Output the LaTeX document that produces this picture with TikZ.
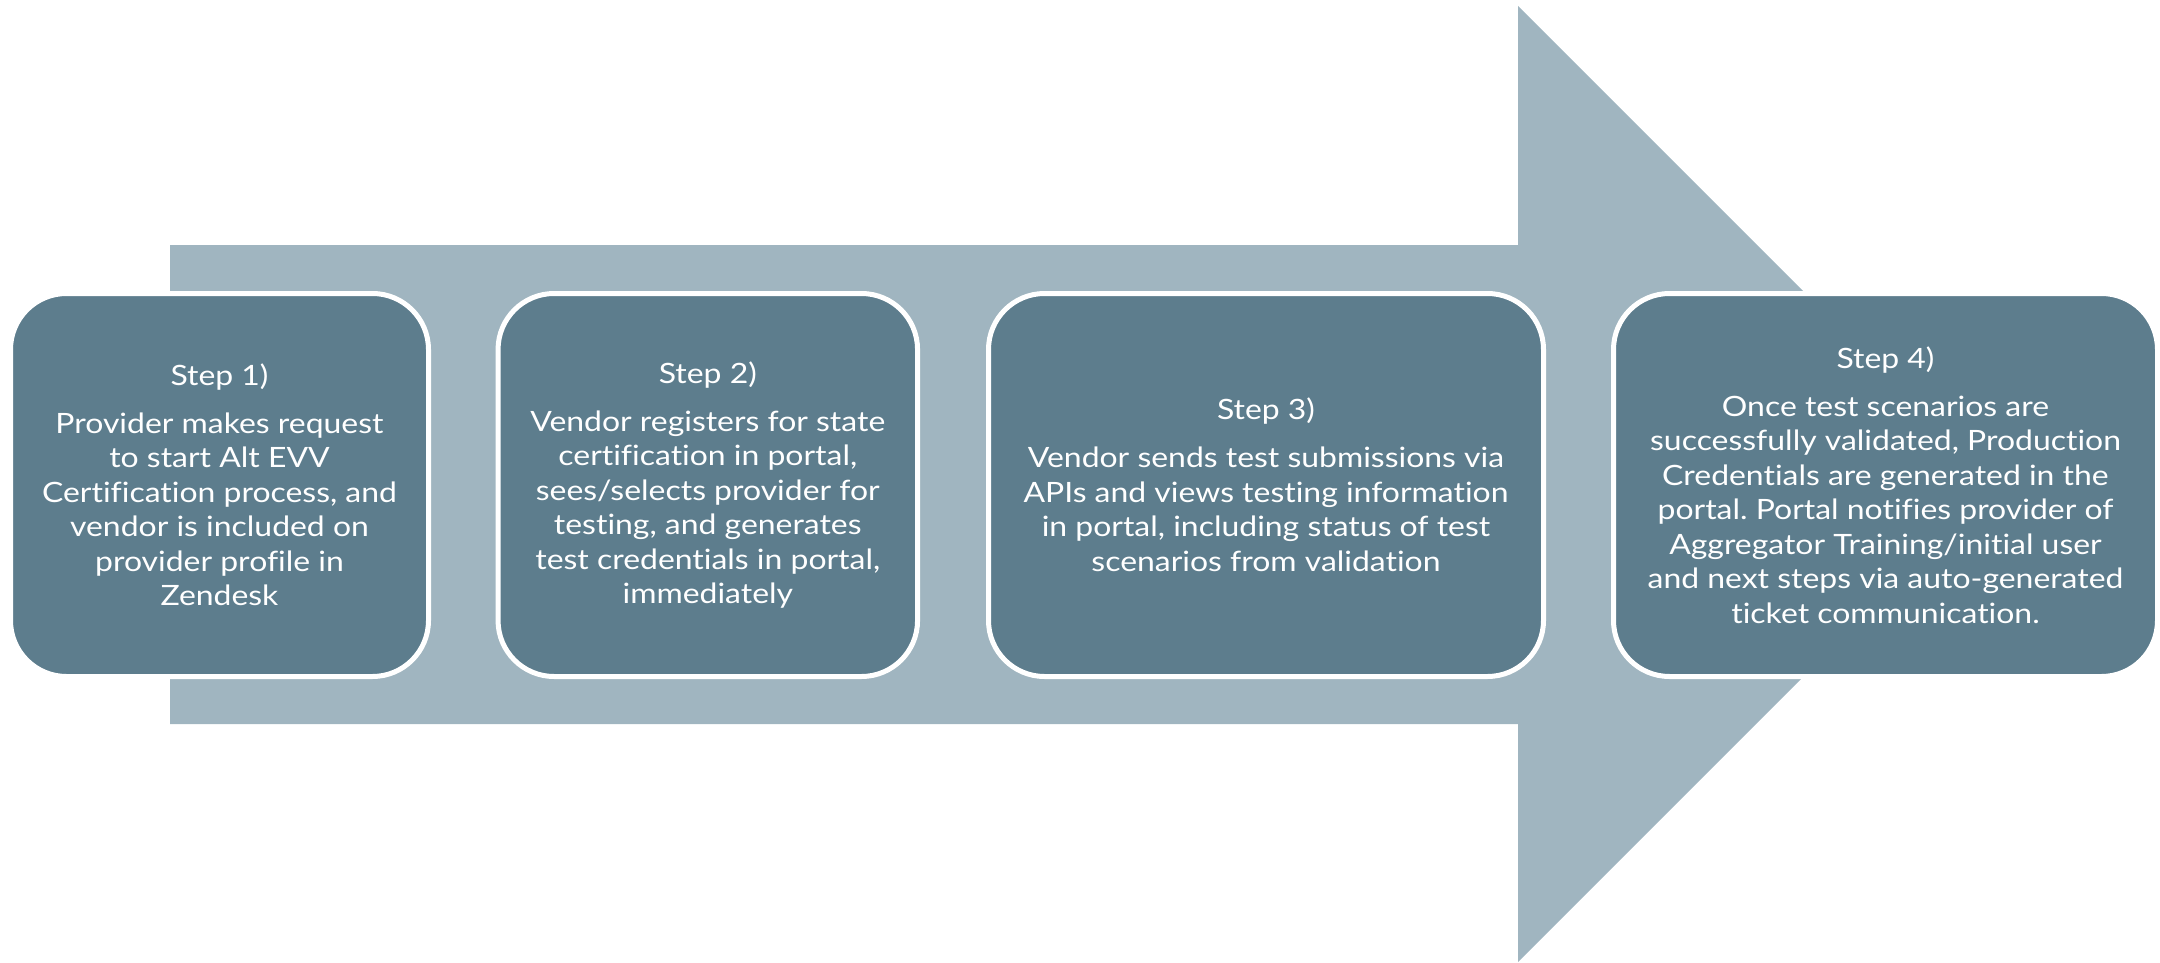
\documentclass[tikz,border=0pt]{standalone}
\usepackage{fontspec}
\setmainfont{Lato}[FakeStretch=1.14, Ligatures=NoCommon]
\frenchspacing
\definecolor{arrowfill}{RGB}{160,181,192}
\definecolor{boxfill}{RGB}{93,125,141}
\begin{document}
\begin{tikzpicture}[x=0.5pt,y=-0.5pt,
  stepbox/.style={draw=white, line width=2.5pt, fill=boxfill, rounded corners=28pt,
    inner sep=0pt, outer sep=0pt, text=white, align=center,
    minimum height=191.5pt, font=\fontsize{14}{17.25}\selectfont\frenchspacing}]
\useasboundingbox (0,0) rectangle (2160,963);
% big arrow
\fill[arrowfill] (170,245) -- (1518,245) -- (1518,6) -- (1996,484) -- (1518,962)
  -- (1518,724) -- (170,724) -- cycle;
% steps
\node[stepbox, minimum width=209pt] (s1) at (219.5,485)
  {Step 1)\\[6.75pt]Provider makes request\\to start Alt EVV\\Certification process, and\\vendor is included on\\provider profile in\\Zendesk};
\node[stepbox, minimum width=209.75pt] (s2) at (707.8,485)
  {Step 2)\\[6.75pt]Vendor registers for state\\certification in portal,\\sees/selects provider for\\testing, and generates\\test credentials in portal,\\immediately};
\node[stepbox, minimum width=277.5pt] (s3) at (1266,485)
  {Step 3)\\[6.75pt]Vendor sends test submissions via\\APIs and views testing information\\in portal, including status of test\\scenarios from validation};
\node[stepbox, minimum width=272pt] (s4) at (1885.5,485)
  {Step 4)\\[6.75pt]Once test scenarios are\\successfully validated, Production\\Credentials are generated in the\\portal. Portal notifies provider of\\Aggregator Training/initial user\\and next steps via auto-generated\\ticket communication.};
\end{tikzpicture}
\end{document}
